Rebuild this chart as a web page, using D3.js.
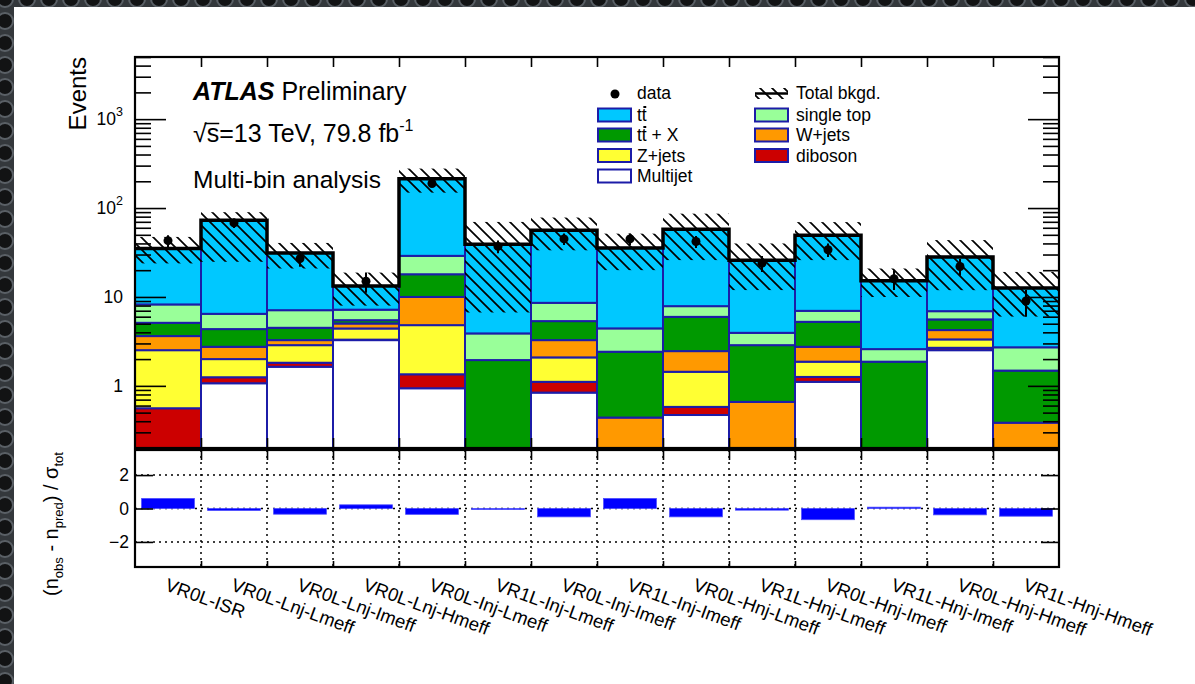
<!DOCTYPE html>
<html>
<head>
<meta charset="utf-8">
<script src="https://cdn.jsdelivr.net/npm/d3@7"></script>
<style>
  html, body { margin: 0; padding: 0; background: #fff; }
  svg { display: block; font-family: "Liberation Sans", Arial, Helvetica, sans-serif; }
</style>
</head>
<body>
<svg id="chart" width="1195" height="684"></svg>
<script>
// Validation regions (x-axis categories)
const regions = [
  "VR0L-ISR", "VR0L-Lnj-Lmeff", "VR0L-Lnj-Imeff", "VR0L-Lnj-Hmeff",
  "VR0L-Inj-Lmeff", "VR1L-Inj-Lmeff", "VR0L-Inj-Imeff", "VR1L-Inj-Imeff",
  "VR0L-Hnj-Lmeff", "VR1L-Hnj-Lmeff", "VR0L-Hnj-Imeff", "VR1L-Hnj-Imeff",
  "VR0L-Hnj-Hmeff", "VR1L-Hnj-Hmeff"
];

// Background yields per region (events), stacked bottom to top
const multijet  = [0,    1.07, 1.64, 3.27, 0.94, 0,    0.84, 0,    0.47, 0,    1.11, 0,    2.52, 0];
const diboson   = [0.56, 0.18, 0.18, 0.04, 0.41, 0,    0.27, 0,    0.11, 0,    0.15, 0,    0.16, 0];
const zjets     = [1.96, 0.75, 1.05, 1.11, 3.47, 0,    0.98, 0,    0.86, 0,    0.61, 0,    0.65, 0];
const wjets     = [1.11, 0.75, 0.40, 0.61, 5.18, 0,    1.18, 0.44, 1.02, 0.66, 0.88, 0,    0.91, 0.385];
const ttX       = [1.49, 1.60, 1.23, 0.45, 8.0,  1.95, 2.08, 1.98, 3.51, 2.21, 2.50, 1.87, 1.35, 1.10];
const singleTop = [3.12, 2.11, 2.60, 1.71, 11.0, 1.94, 3.24, 2.01, 1.91, 1.08, 1.73, 0.72, 1.33, 1.23];
const ttbar     = [26.9, 66.4, 24.2, 6.1,  185,  35.3, 47.7, 31.2, 49.9, 22.0, 42.5, 12.6, 21.3, 9.9];

// Total background uncertainty (up / down, events)
const errUp   = [12.2, 17.0, 9.2,  5.5, 64, 30.6, 21.9, 15.9, 28.7, 14.0, 20.0, 5.7, 15.4, 6.5];
const errDown = [11.3, 48.0, 10.4, 5.3, 65, 32.5, 22.8, 15.6, 31.8, 14.0, 23.5, 5.2, 16.3, 6.6];

// Observed data
const observed = [43, 68, 27, 15, 189, 37, 45, 45, 42, 24, 34, 16, 22, 9];

// Significance (n_obs - n_pred) / sigma_tot
const pull = [0.60, -0.12, -0.34, 0.22, -0.35, -0.03, -0.50, 0.60, -0.50, -0.10, -0.67, 0.08, -0.38, -0.46];

// Tick labels
const mainTicks = [1, 10, 100, 1000];
const mainTickLabels = [["1", ""], ["10", ""], ["10", "2"], ["10", "3"]];
const pullTicks = [-2, 0, 2];
const pullTickLabels = ["\u22122", "0", "2"];

const series = [
  { key: "multijet",  values: multijet,  color: "#ffffff", label: "Multijet" },
  { key: "diboson",   values: diboson,   color: "#cc0000", label: "diboson" },
  { key: "zjets",     values: zjets,     color: "#ffff33", label: "Z+jets" },
  { key: "wjets",     values: wjets,     color: "#ff9900", label: "W+jets" },
  { key: "ttX",       values: ttX,       color: "#009900", label: "ttX" },
  { key: "singleTop", values: singleTop, color: "#99ff99", label: "single top" },
  { key: "ttbar",     values: ttbar,     color: "#00c8ff", label: "tt" }
];
const edgeBlue = "#1c1ca8";

// ---------------- layout ----------------
const L = 135, R = 1059, T = 57, B = 448;      // main pad frame
const RT = 450, RB = 567;                      // pull pad frame
const yMin = 0.2, yMax = 5000;
const n = regions.length;

const svg = d3.select("#chart");
const defs = svg.append("defs");

// diagonal hatching for the uncertainty band
const hp = defs.append("pattern").attr("id", "hatch")
  .attr("patternUnits", "userSpaceOnUse").attr("width", 12).attr("height", 12);
hp.append("path")
  .attr("d", "M-1,-1 L13,13 M-1,11 L1,13 M11,-1 L13,1")
  .attr("stroke", "#000").attr("stroke-width", 1.7).attr("fill", "none");

// dark perforated frame around the page edge
const gp = defs.append("pattern").attr("id", "grille")
  .attr("patternUnits", "userSpaceOnUse").attr("width", 22).attr("height", 22)
  .attr("patternTransform", "translate(-6,-12)");
gp.append("rect").attr("width", 22).attr("height", 22).attr("fill", "#34383c");
gp.append("circle").attr("cx", 11).attr("cy", 11).attr("r", 8)
  .attr("fill", "#121314").attr("stroke", "#5a6066").attr("stroke-width", 2);

svg.append("rect").attr("x", 0).attr("y", 0).attr("width", 1195).attr("height", 684).attr("fill", "#fff");

defs.append("clipPath").attr("id", "mainClip")
  .append("rect").attr("x", L).attr("y", T).attr("width", R - L).attr("height", B - T);

const x = d3.scaleLinear().domain([0, n]).range([L, R]);
const y = d3.scaleLog().domain([yMin, yMax]).range([B, T]);
const yr = d3.scaleLinear().domain([-3.5, 3.5]).range([RB, RT]);
const ys = v => (v <= yMin ? B + 2 : y(v));

// ---------------- stacked backgrounds ----------------
const rows = regions.map((r, i) => {
  const o = { region: r };
  series.forEach(s => { o[s.key] = s.values[i]; });
  return o;
});
const stacked = d3.stack().keys(series.map(s => s.key))(rows);
const total = rows.map(r => d3.sum(series, s => r[s.key]));

const main = svg.append("g").attr("clip-path", "url(#mainClip)");

stacked.forEach((layer, li) => {
  main.append("g").selectAll("rect")
    .data(layer.map((d, i) => ({ lo: d[0], hi: d[1], i })).filter(d => d.hi - d.lo > 0 && d.hi > yMin))
    .join("rect")
    .attr("x", d => x(d.i))
    .attr("width", d => x(d.i + 1) - x(d.i))
    .attr("y", d => ys(d.hi))
    .attr("height", d => ys(d.lo) - ys(d.hi))
    .attr("fill", series[li].color)
    .attr("stroke", edgeBlue)
    .attr("stroke-width", 2);
});

// uncertainty band
main.append("g").selectAll("rect")
  .data(total.map((t, i) => ({ i, hi: t + errUp[i], lo: Math.max(t - errDown[i], yMin) })))
  .join("rect")
  .attr("x", d => x(d.i))
  .attr("width", d => x(d.i + 1) - x(d.i))
  .attr("y", d => y(d.hi))
  .attr("height", d => y(d.lo) - y(d.hi))
  .attr("fill", "url(#hatch)");

// total background outline
const stepPts = total.map((t, i) => [x(i), y(t)]).concat([[x(n), y(total[n - 1])]]);
main.append("path")
  .attr("d", d3.line().curve(d3.curveStepAfter)(stepPts))
  .attr("fill", "none").attr("stroke", "#000").attr("stroke-width", 3.5);

// data points with Poisson errors
const dataG = main.append("g");
observed.forEach((v, i) => {
  const cx = x(i + 0.5), e = Math.sqrt(v);
  dataG.append("line").attr("x1", cx).attr("x2", cx)
    .attr("y1", y(v + e)).attr("y2", y(Math.max(v - e, yMin)))
    .attr("stroke", "#000").attr("stroke-width", 2);
  dataG.append("circle").attr("cx", cx).attr("cy", y(v)).attr("r", 4.5).attr("fill", "#000");
});

// ---------------- main pad axes ----------------
const minor = [];
for (let e = -1; e <= 3; e++) for (let k = 2; k <= 9; k++) {
  const v = k * Math.pow(10, e);
  if (v >= yMin && v <= yMax) minor.push(v);
}
function cleanAxis(g) {
  g.select(".domain").remove();
  g.selectAll("text").remove();
  g.selectAll("line").attr("stroke", "#000").attr("stroke-width", 1.6);
}
svg.append("g").attr("transform", `translate(${L},0)`)
  .call(d3.axisLeft(y).tickValues(mainTicks).tickSize(-31)).call(cleanAxis);
svg.append("g").attr("transform", `translate(${L},0)`)
  .call(d3.axisLeft(y).tickValues(minor).tickSize(-16)).call(cleanAxis);
svg.append("g").attr("transform", `translate(${R},0)`)
  .call(d3.axisRight(y).tickValues(mainTicks).tickSize(-31)).call(cleanAxis);
svg.append("g").attr("transform", `translate(${R},0)`)
  .call(d3.axisRight(y).tickValues(minor).tickSize(-16)).call(cleanAxis);
svg.append("g").attr("transform", `translate(0,${T})`)
  .call(d3.axisTop(x).tickValues(d3.range(1, n)).tickSize(-10)).call(cleanAxis);
svg.append("g").attr("transform", `translate(0,${B})`)
  .call(d3.axisBottom(x).tickValues(d3.range(1, n)).tickSize(-10)).call(cleanAxis);

svg.append("rect").attr("x", L).attr("y", T).attr("width", R - L).attr("height", B - T)
  .attr("fill", "none").attr("stroke", "#000").attr("stroke-width", 2.2);

// y tick labels
const tl = svg.append("g").attr("font-size", 17.5).attr("fill", "#000");
mainTicks.forEach((v, i) => {
  const [base, sup] = mainTickLabels[i];
  const t = tl.append("text").attr("x", 123).attr("y", y(v) + 6).attr("text-anchor", "end");
  t.append("tspan").text(base);
  if (sup) t.append("tspan").attr("font-size", 12.5).attr("dy", -9).text(sup);
});

// y title
svg.append("text").attr("transform", `translate(86,${T}) rotate(-90)`)
  .attr("text-anchor", "end").attr("font-size", 24).text("Events");

// ---------------- labels ----------------
svg.append("text").attr("x", 193).attr("y", 100).attr("font-size", 25)
  .call(t => {
    t.append("tspan").attr("font-weight", "bold").attr("font-style", "italic").text("ATLAS");
    t.append("tspan").text(" Preliminary");
  });

const lumi = svg.append("text").attr("x", 193).attr("y", 142).attr("font-size", 25);
lumi.append("tspan").text("\u221A");
lumi.append("tspan").text("s=13 TeV, 79.8 fb");
lumi.append("tspan").attr("font-size", 16).attr("dy", -11).text("-1");
{
  const ext = lumi.node().getExtentOfChar(1);
  const ext0 = lumi.node().getExtentOfChar(0);
  svg.append("line").attr("x1", ext0.x + ext0.width - 2).attr("x2", ext.x + ext.width)
    .attr("y1", 142 - 18.5).attr("y2", 142 - 18.5).attr("stroke", "#000").attr("stroke-width", 1.5);
}

svg.append("text").attr("x", 193).attr("y", 188).attr("font-size", 24.5).text("Multi-bin analysis");

// ---------------- legend ----------------
const leg = svg.append("g").attr("font-size", 17.5);
function ttText(g, xx, yy, suffix) {
  const t = g.append("text").attr("x", xx).attr("y", yy).text("tt" + suffix);
  const e = t.node().getExtentOfChar(1);
  g.append("line").attr("x1", e.x + 1.5).attr("x2", e.x + e.width - 0.5)
    .attr("y1", yy - 14).attr("y2", yy - 14).attr("stroke", "#000").attr("stroke-width", 2);
}
function legBox(g, xx, cy, color) {
  g.append("rect").attr("x", xx).attr("y", cy - 6.5).attr("width", 33).attr("height", 13)
    .attr("fill", color).attr("stroke", edgeBlue).attr("stroke-width", 2);
}
const c1 = 598, c2 = 755, tx1 = 637, tx2 = 796;
leg.append("circle").attr("cx", 615).attr("cy", 94).attr("r", 4.5).attr("fill", "#000");
leg.append("text").attr("x", tx1).attr("y", 99).text("data");
legBox(leg, c1, 115, series[6].color); ttText(leg, tx1, 121, "");
legBox(leg, c1, 135, series[4].color); ttText(leg, tx1, 141, " + X");
legBox(leg, c1, 155.5, series[2].color); leg.append("text").attr("x", tx1).attr("y", 161.5).text("Z+jets");
legBox(leg, c1, 176, series[0].color); leg.append("text").attr("x", tx1).attr("y", 182).text("Multijet");

leg.append("rect").attr("x", c2).attr("y", 88).attr("width", 33).attr("height", 11).attr("fill", "url(#hatch)");
leg.append("line").attr("x1", c2).attr("x2", c2 + 33).attr("y1", 93.5).attr("y2", 93.5)
  .attr("stroke", "#000").attr("stroke-width", 2.5);
leg.append("text").attr("x", tx2).attr("y", 99).text("Total bkgd.");
legBox(leg, c2, 115, series[5].color); leg.append("text").attr("x", tx2).attr("y", 121).text("single top");
legBox(leg, c2, 135, series[3].color); leg.append("text").attr("x", tx2).attr("y", 141).text("W+jets");
legBox(leg, c2, 155.5, series[1].color); leg.append("text").attr("x", tx2).attr("y", 161.5).text("diboson");

// ---------------- pull pad ----------------
const grid = svg.append("g").attr("stroke", "#000").attr("stroke-width", 1.5).attr("stroke-dasharray", "2,4");
pullTicks.forEach(v => grid.append("line").attr("x1", L).attr("x2", R).attr("y1", yr(v)).attr("y2", yr(v)));
d3.range(1, n).forEach(i => grid.append("line").attr("x1", x(i)).attr("x2", x(i)).attr("y1", RT).attr("y2", RB));

svg.append("g").selectAll("rect").data(pull.map((p, i) => ({ p, i }))).join("rect")
  .attr("x", d => x(d.i + 0.1))
  .attr("width", d => x(d.i + 0.9) - x(d.i + 0.1))
  .attr("y", d => Math.min(yr(d.p), yr(0)))
  .attr("height", d => Math.max(Math.abs(yr(d.p) - yr(0)), 1))
  .attr("fill", "#0000ff").attr("stroke", "#4d4dff").attr("stroke-width", 0.8);

svg.append("g").attr("transform", `translate(${L},0)`)
  .call(d3.axisLeft(yr).tickValues(pullTicks).tickSize(-18)).call(cleanAxis);
svg.append("g").attr("transform", `translate(${R},0)`)
  .call(d3.axisRight(yr).tickValues(pullTicks).tickSize(-18)).call(cleanAxis);
svg.append("g").attr("transform", `translate(0,${RT})`)
  .call(d3.axisTop(x).tickValues(d3.range(1, n)).tickSize(-10)).call(cleanAxis);
svg.append("g").attr("transform", `translate(0,${RB})`)
  .call(d3.axisBottom(x).tickValues(d3.range(1, n)).tickSize(-6)).call(cleanAxis);

svg.append("rect").attr("x", L).attr("y", RT).attr("width", R - L).attr("height", RB - RT)
  .attr("fill", "none").attr("stroke", "#000").attr("stroke-width", 2.2);

const pl = svg.append("g").attr("font-size", 17.5);
pullTicks.forEach((v, i) => {
  pl.append("text").attr("x", 129).attr("y", yr(v) + 6).attr("text-anchor", "end").text(pullTickLabels[i]);
});

const pt = svg.append("text").attr("transform", `translate(58,524) rotate(-90)`)
  .attr("text-anchor", "middle").attr("font-size", 20);
pt.append("tspan").text("(n");
pt.append("tspan").attr("font-size", 13).attr("dy", 5).text("obs");
pt.append("tspan").attr("dy", -5).text(" - n");
pt.append("tspan").attr("font-size", 13).attr("dy", 5).text("pred");
pt.append("tspan").attr("dy", -5).text(") / \u03C3");
pt.append("tspan").attr("font-size", 13).attr("dy", 5).text("tot");

// region labels
svg.append("g").attr("font-size", 18.5).selectAll("text").data(regions).join("text")
  .attr("transform", (d, i) => `translate(${x(i + 0.5) - 4},590) rotate(20)`)
  .text(d => d);

// page edge
svg.append("rect").attr("x", 0).attr("y", 0).attr("width", 14).attr("height", 684).attr("fill", "url(#grille)");
svg.append("rect").attr("x", 0).attr("y", 0).attr("width", 1195).attr("height", 7).attr("fill", "url(#grille)");
</script>
</body>
</html>
